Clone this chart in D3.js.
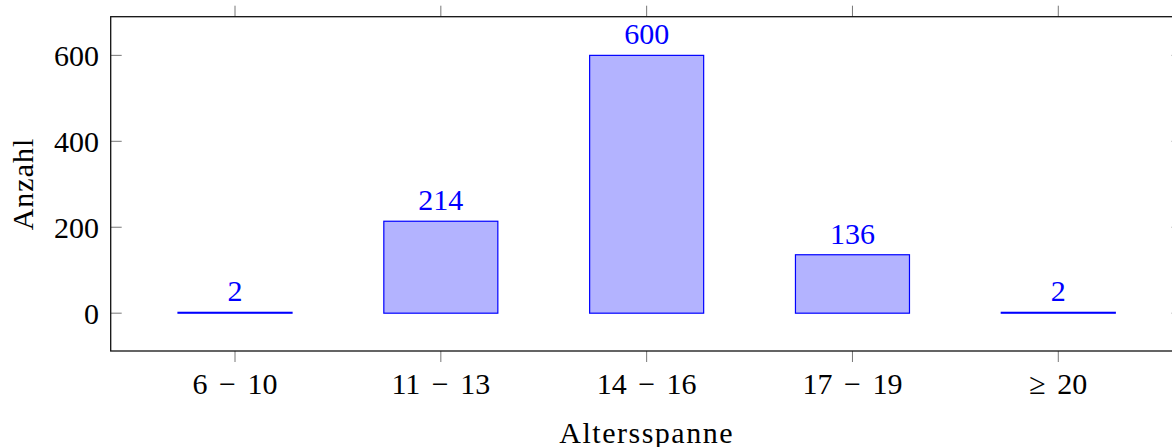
<!DOCTYPE html>
<html><head><meta charset="utf-8">
<script src="https://cdn.jsdelivr.net/npm/d3@7"></script>
<style>
html,body{margin:0;padding:0;background:#fff;}
svg{display:block;}
text{font-family:"Liberation Serif","DejaVu Serif",serif;}
</style></head>
<body>
<svg id="chart" width="1172" height="447"></svg>
<script>
const categories = ["6 \u2212 10", "11 \u2212 13", "14 \u2212 16", "17 \u2212 19", "\u2265 20"];
const values = [2, 214, 600, 136, 2];
const yTicks = [0, 200, 400, 600];
const yLabel = "Anzahl";
const xLabel = "Altersspanne";

(function(){
const svg = d3.select("#chart");
const mLeft = 110.7, mTop = 16.7, mBottom = 351, mRight = 1182.6;

const x = d3.scaleLinear().domain([-0.604, categories.length - 1 + 0.604]).range([mLeft, mRight]);
const y = d3.scaleLinear().domain([-88, 690]).range([mBottom, mTop]);
const barW = 0.554;

const fs = 30;

// bars
svg.append("g").selectAll("rect").data(values).join("rect")
  .attr("x", (d,i) => x(i - barW/2))
  .attr("width", x(barW) - x(0))
  .attr("y", d => y(d))
  .attr("height", d => y(0) - y(d))
  .attr("fill", "rgb(179,179,255)")
  .attr("stroke", "blue")
  .attr("stroke-width", 1.2);

// value labels
svg.append("g").selectAll("text").data(values).join("text")
  .attr("x", (d,i) => x(i))
  .attr("y", d => y(d) - 11)
  .attr("text-anchor", "middle")
  .attr("fill", "blue")
  .attr("font-size", fs)
  .text(d => d);

// ticks
const tickG = svg.append("g").attr("stroke", "#777").attr("stroke-width", 1);
categories.forEach((c,i) => {
  tickG.append("line").attr("x1", x(i)).attr("x2", x(i)).attr("y1", mBottom).attr("y2", mBottom + 11);
  tickG.append("line").attr("x1", x(i)).attr("x2", x(i)).attr("y1", mTop).attr("y2", mTop - 11);
});
yTicks.forEach(t => {
  tickG.append("line").attr("x1", mLeft).attr("x2", mLeft + 11).attr("y1", y(t)).attr("y2", y(t));
  tickG.append("line").attr("x1", mRight).attr("x2", mRight - 11).attr("y1", y(t)).attr("y2", y(t));
});

// axis box
svg.append("rect").attr("x", mLeft).attr("y", mTop).attr("width", mRight - mLeft).attr("height", mBottom - mTop)
  .attr("fill", "none").attr("stroke", "#111").attr("stroke-width", 1.3);

// tick labels
svg.append("g").selectAll("text").data(categories).join("text")
  .attr("x", (d,i) => x(i)).attr("y", 394)
  .attr("text-anchor", "middle").attr("font-size", fs).attr("fill", "#000")
  .attr("word-spacing", 4)
  .text(d => d);
svg.append("g").selectAll("text").data(yTicks).join("text")
  .attr("x", 99).attr("y", d => y(d) + 10.5)
  .attr("text-anchor", "end").attr("font-size", fs).attr("fill", "#000")
  .text(d => d);

// axis labels
svg.append("text").attr("x", x(2)).attr("y", 442.5)
  .attr("text-anchor", "middle").attr("font-size", fs).attr("letter-spacing", 1.5).text(xLabel);
svg.append("text").attr("transform", "translate(33,184) rotate(-90)")
  .attr("text-anchor", "middle").attr("font-size", fs).attr("letter-spacing", 1).text(yLabel);
})();
</script>
</body></html>
